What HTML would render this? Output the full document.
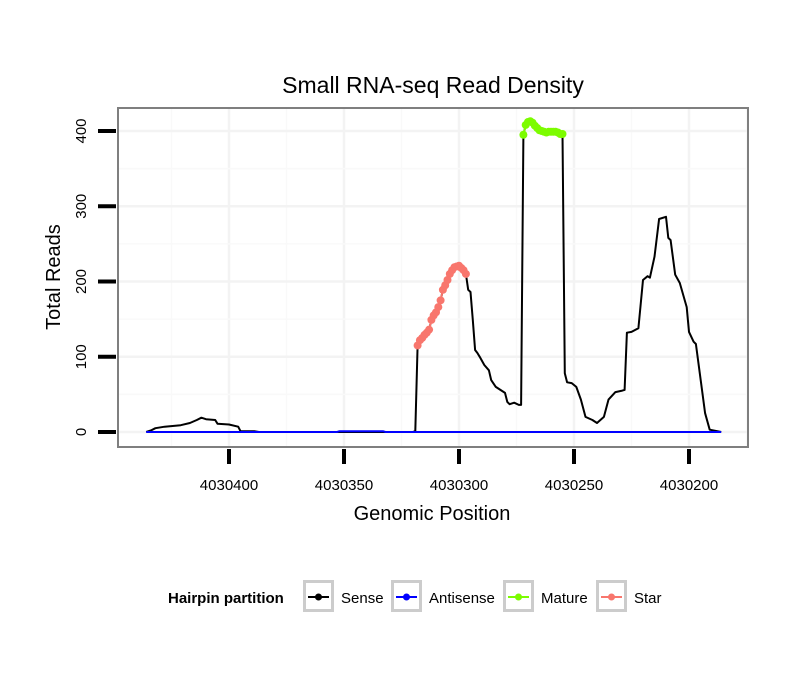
<!DOCTYPE html>
<html><head><meta charset="utf-8"><style>
body{margin:0;background:#fff;font-family:"Liberation Sans",sans-serif}
</style></head><body>
<svg id="chart" width="810" height="690" xmlns="http://www.w3.org/2000/svg" font-family="Liberation Sans, sans-serif">
<rect width="810" height="690" fill="#fff"/>
<text x="433" y="93" font-size="23" text-anchor="middle">Small RNA-seq Read Density</text>
<g id="grid"></g>
<g id="series"></g>
<rect x="118" y="108" width="630" height="339" fill="none" stroke="#7f7f7f" stroke-width="2"/>
<g id="axes"></g>
<text x="432" y="520" font-size="20" text-anchor="middle">Genomic Position</text>
<text transform="translate(60,277) rotate(-90)" font-size="20" text-anchor="middle">Total Reads</text>
<g>
<text x="168" y="603" font-size="15" font-weight="bold">Hairpin partition</text>
<g id="legend"></g>
</g>
</svg>
<script>
const xTicks=[4030400,4030350,4030300,4030250,4030200];
const yTicks=[0,100,200,300,400];
const sensePos=[4030436,4030434,4030432,4030428,4030421,4030417,4030414,4030412,4030410,4030406,4030405,4030400,4030396,4030395,4030389,4030387,4030320,4030319,4030318,4030317,4030315,4030313,4030312,4030310,4030308,4030307,4030305,4030303,4030302,4030300,4030299,4030297,4030296,4030295,4030294,4030293,4030292,4030291,4030289,4030287,4030286,4030284,4030282,4030280,4030279,4030278,4030276,4030274,4030273,4030272,4030271,4030270,4030268,4030267,4030265,4030263,4030260,4030258,4030256,4030255,4030254,4030253,4030251,4030249,4030247,4030245,4030242,4030240,4030237,4030235,4030232,4030229,4030228,4030227,4030225,4030222,4030220,4030218,4030217,4030215,4030213,4030210,4030209,4030208,4030206,4030204,4030201,4030200,4030198,4030197,4030193,4030191,4030186];
const senseVal=[0,2,5,7,9,12,16,19,17,16,11,10,7,1,1,0,0,1,115,122,129,136,149,159,175,189,202,215,219,221,215,210,189,186,149,109,105,100,89,82,69,60,56,52,40,37,39,36,36,395,408,412,411,407,401,399,399,399,396,396,78,66,65,60,43,20,16,12,20,43,53,55,56,132,133,138,202,207,205,233,283,286,258,255,209,198,166,133,120,117,25,3,0];
const antiPos=[4030436,4030353,4030352,4030333,4030332,4030186];
const antiVal=[0,0,1,1,0,0];
const starPos=[4030318,4030317,4030316,4030315,4030314,4030313,4030312,4030311,4030310,4030309,4030308,4030307,4030306,4030305,4030304,4030303,4030302,4030301,4030300,4030299,4030298,4030297];
const starVal=[115,122,125,129,132,136,149,155,159,166,175,189,195,202,210,215,219,220,221,218,215,210];
const maturePos=[4030272,4030271,4030270,4030269,4030268,4030267,4030266,4030265,4030264,4030263,4030262,4030261,4030260,4030259,4030258,4030257,4030256,4030255];
const matureVal=[395,408,412,413,411,407,404,401,400,399,398,399,399,399,399,398,396,396];

const NS="http://www.w3.org/2000/svg";
const X=p=>229+(4030400-p)*2.3;
const Y=v=>432-v*0.7525;
function mk(tag,attrs,parent){const e=document.createElementNS(NS,tag);for(const k in attrs)e.setAttribute(k,attrs[k]);parent.appendChild(e);return e;}
const grid=document.getElementById('grid'),series=document.getElementById('series'),axes=document.getElementById('axes'),legend=document.getElementById('legend');
for(let i=0;i<xTicks.length;i++){
  const g=mk('line',{x1:X(xTicks[i]),x2:X(xTicks[i]),y1:109,y2:446,stroke:'#f3f3f3','stroke-width':2.5},grid);
  
  
  const m=xTicks[i]-25;
  const g2=mk('line',{x1:X(m),x2:X(m),y1:109,y2:446,stroke:'#f9f9f9','stroke-width':1.5},grid);
  
  
}
const gm=mk('line',{x1:X(xTicks[0]+25),x2:X(xTicks[0]+25),y1:109,y2:446,stroke:'#f9f9f9','stroke-width':1.5},grid);


for(let i=0;i<yTicks.length;i++){
  const g=mk('line',{x1:119,x2:747,y1:Y(yTicks[i]),y2:Y(yTicks[i]),stroke:'#f3f3f3','stroke-width':2.5},grid);
  
  
  if(i<yTicks.length-1){
    const g2=mk('line',{x1:119,x2:747,y1:Y(yTicks[i]+50),y2:Y(yTicks[i]+50),stroke:'#f9f9f9','stroke-width':1.5},grid);
    
    
  }
}
function pts(P,V){return P.map((p,i)=>X(p).toFixed(1)+','+Y(V[i]).toFixed(1)).join(' ');}
const lS=mk('polyline',{points:pts(sensePos,senseVal),fill:'none',stroke:'#000','stroke-width':2,'stroke-linejoin':'round'},series);


const lA=mk('polyline',{points:pts(antiPos,antiVal),fill:'none',stroke:'#0000ff','stroke-width':2},series);


function dotted(P,V,col,name){
  const l=mk('polyline',{points:pts(P,V),fill:'none',stroke:col,'stroke-width':2},series);
  
  
  P.forEach((p,i)=>{
    const c=mk('circle',{cx:X(p),cy:Y(V[i]),r:4,fill:col},series);
    
    
  });
}
dotted(starPos,starVal,'#f8766d','star');
dotted(maturePos,matureVal,'#7cfc00','mature');
xTicks.forEach(t=>{
  const k=mk('line',{x1:X(t),x2:X(t),y1:449,y2:464,stroke:'#000','stroke-width':4},axes);
  
  
  const tx=mk('text',{x:X(t),y:490,'font-size':15,'text-anchor':'middle'},axes);
  tx.textContent=t;
  
  
});
yTicks.forEach(t=>{
  const k=mk('line',{x1:98,x2:116,y1:Y(t),y2:Y(t),stroke:'#000','stroke-width':4},axes);
  
  
  const tx=mk('text',{transform:`translate(86,${Y(t)}) rotate(-90)`,'font-size':15,'text-anchor':'middle'},axes);
  tx.textContent=t;
  
  
});
const legNames=['Sense','Antisense','Mature','Star'];
const legCols=['#000','#0000ff','#7cfc00','#f8766d'];
const legX=[303,391,503,596];
legNames.forEach((n,i)=>{
  const g=mk('g',{},legend);
  
  
  const b=mk('rect',{x:legX[i]+1.5,y:581.5,width:28,height:29,fill:'#fff',stroke:'#cccccc','stroke-width':3},g);
  
  
  mk('line',{x1:legX[i]+5,x2:legX[i]+26,y1:597,y2:597,stroke:legCols[i],'stroke-width':2},g);
  mk('circle',{cx:legX[i]+15.5,cy:597,r:3.5,fill:legCols[i]},g);
  const t=mk('text',{x:legX[i]+38,y:603,'font-size':15},g);
  t.textContent=n;
  
  
});
</script>
</body></html>
